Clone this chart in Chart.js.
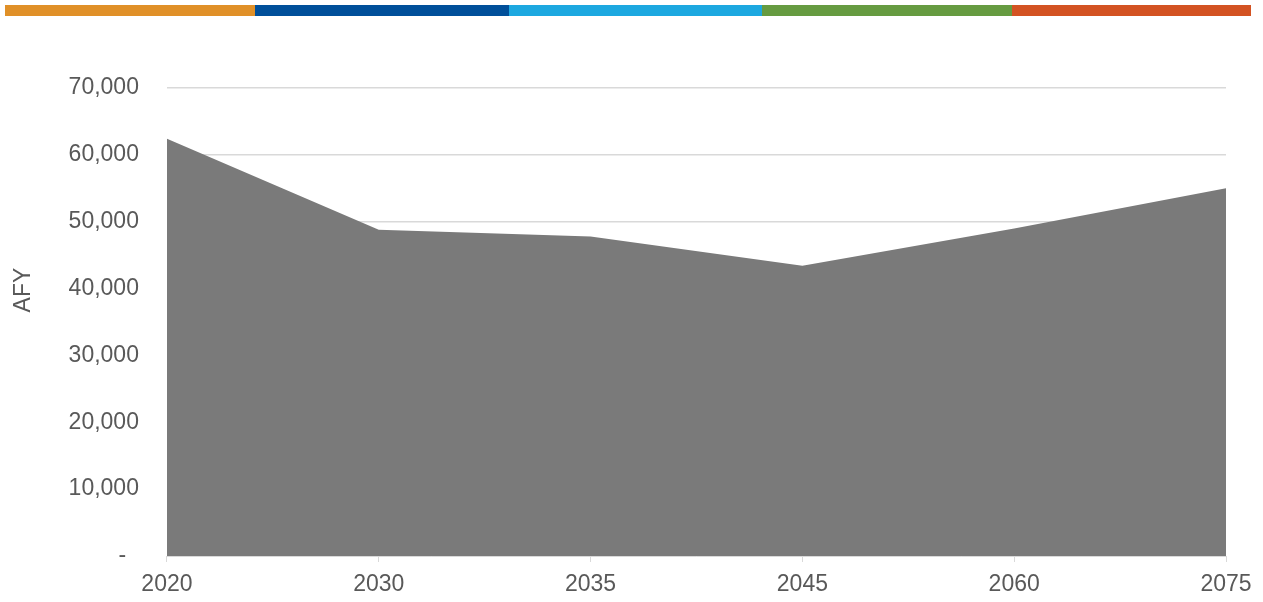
<!DOCTYPE html><html lang="en"><head><meta charset="utf-8">
<title>AFY</title>
<script src="https://cdn.jsdelivr.net/npm/chart.js@4.4.0/dist/chart.umd.min.js"></script>
<style>
  body { margin: 0; background: #fff; }
  .band { position: absolute; top: 5px; height: 11px; }
  #wrap { position: absolute; left: 0; top: 0; width: 1263px; height: 602px; }
</style>
</head>
<body>
<div class="band" style="left:5px;width:250px;background:#e09028"></div>
<div class="band" style="left:255px;width:254px;background:#004f9a"></div>
<div class="band" style="left:509px;width:253px;background:#1da8e0"></div>
<div class="band" style="left:762px;width:250px;background:#669b41"></div>
<div class="band" style="left:1012px;width:239px;background:#d35322"></div>
<div id="wrap"><canvas id="chart"></canvas></div>
<script>
// 年ごとの値 (AFY)
const years = ['2020', '2030', '2035', '2045', '2060', '2075'];
const afy = [62400, 48800, 47800, 43400, 49000, 55000];
const yTicks = [0, 10000, 20000, 30000, 40000, 50000, 60000, 70000];

const textColor = '#595959';
const font = { family: 'Liberation Sans, Arial, sans-serif', size: 23 };

const ctx = document.getElementById('chart').getContext('2d');
new Chart(ctx, {
  type: 'line',
  data: {
    labels: years,
    datasets: [{
      data: afy,
      backgroundColor: '#7a7a7a',
      borderWidth: 0,
      pointRadius: 0,
      tension: 0,
      fill: 'origin'
    }]
  },
  options: {
    responsive: true,
    maintainAspectRatio: false,
    animation: false,
    layout: { padding: { top: 88, right: 37, left: 10, bottom: -5 } },
    plugins: { legend: { display: false }, tooltip: { enabled: false } },
    scales: {
      x: {
        offset: false,
        grid: { display: true, drawOnChartArea: false, tickLength: 6, color: '#d9d9d9' },
        border: { display: true, color: '#d9d9d9', width: 1 },
        ticks: { color: textColor, font: { ...font, lineHeight: 1 }, padding: 11, maxRotation: 0 }
      },
      y: {
        min: 0,
        max: 70000,
        afterBuildTicks: (axis) => { axis.ticks = yTicks.map(v => ({ value: v })); },
        grid: { color: '#d9d9d9', lineWidth: 1.5, drawTicks: false },
        border: { display: false },
        ticks: {
          color: textColor, font: font, padding: 28,
          callback: (v) => v === 0 ? '-  ' : v.toLocaleString('en-US')
        },
        title: { display: true, text: '          AFY', color: textColor, font: font, padding: { top: 0, bottom: 3 } }
      }
    }
  }
});
</script>
</body></html>
